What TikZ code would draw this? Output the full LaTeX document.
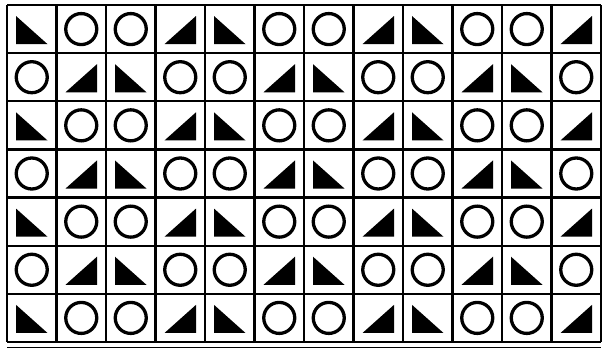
\documentclass[tikz,border=0pt]{standalone}
\begin{document}
\begin{tikzpicture}[x=1pt,y=-1pt,
  gridline/.style={line width=2.4pt,black},
  ring/.style={line width=3.3pt,black},
  wedge/.style={fill=black}]
\useasboundingbox (0,0) rectangle (604,351);
\fill[white] (0,0) rectangle (604,351);
\def\cw{49.5}
\def\ch{48.14}
\foreach \r in {0,...,6}{
  \foreach \c in {0,...,11}{
    \pgfmathsetmacro\xl{7+\c*\cw}
    \pgfmathsetmacro\yt{5+\r*\ch}
    \pgfmathsetmacro\xr{\xl+\cw}
    \pgfmathsetmacro\yb{\yt+\ch}
    \pgfmathtruncatemacro\k{mod(\c+2*mod(\r,2),4)}
    \ifnum\k=0
      \fill[wedge] (\xl+9,\yt+11) -- (\xl+9,\yb-9) -- (\xr-9,\yb-9) -- cycle;
    \else\ifnum\k=3
      \fill[wedge] (\xr-9,\yt+11) -- (\xr-9,\yb-9) -- (\xl+9,\yb-9) -- cycle;
    \else
      \draw[ring] ({\xl+\cw/2},{\yt+\ch/2}) circle[radius=15.5];
    \fi\fi
  }
}
\foreach \i in {0,...,12}{
  \draw[gridline] ({7+\i*\cw},5) -- ({7+\i*\cw},{5+7*\ch});
}
\foreach \j in {0,...,7}{
  \draw[gridline] (7,{5+\j*\ch}) -- ({7+12*\cw},{5+\j*\ch});
}
\draw[line width=1.6pt] (7,347.5) -- ({7+12*\cw},347.5);
\end{tikzpicture}
\end{document}
